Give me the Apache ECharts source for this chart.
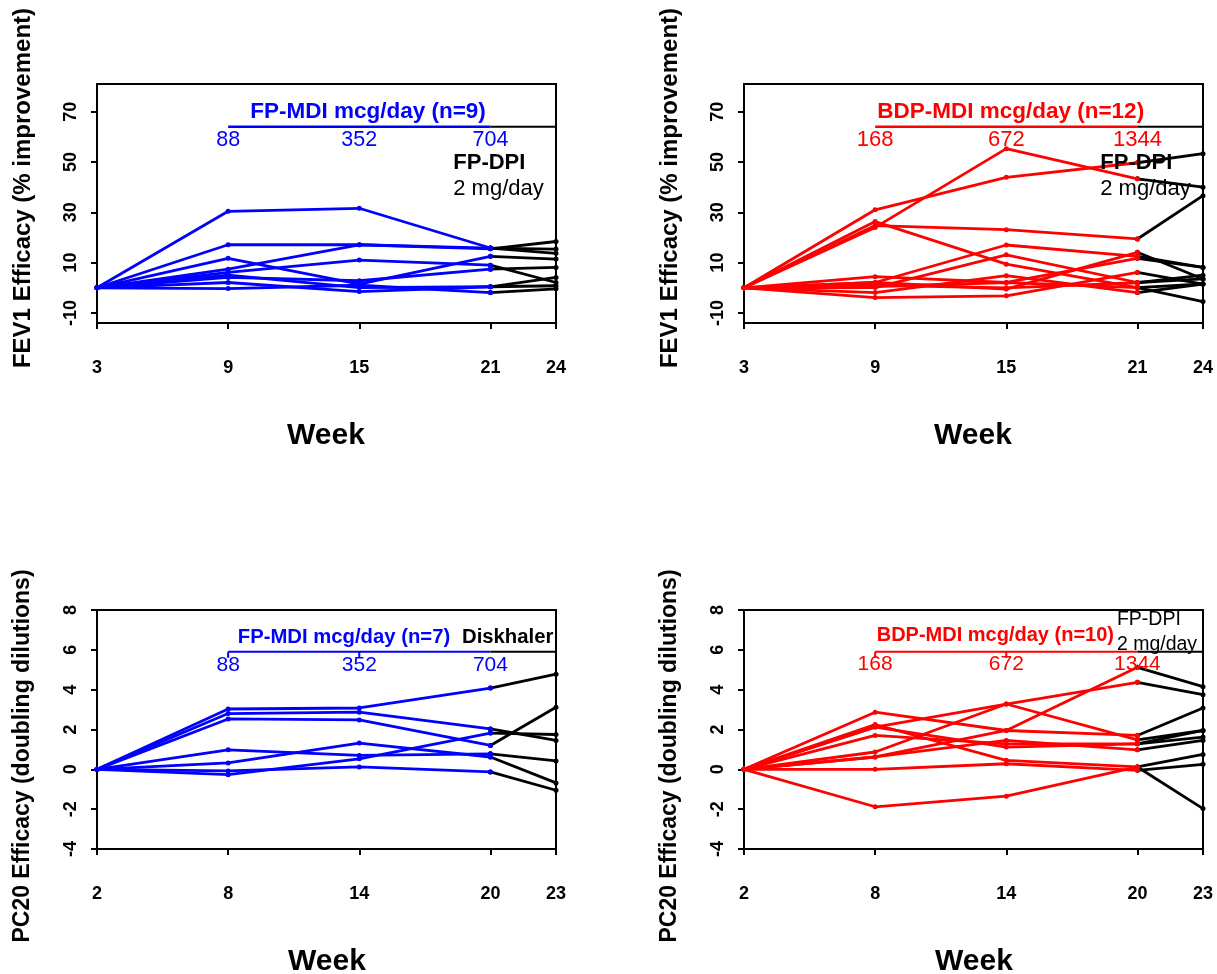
<!DOCTYPE html>
<html>
<head>
<meta charset="utf-8">
<script src="https://cdn.jsdelivr.net/npm/echarts@6/dist/echarts.min.js"></script>
<style>
html,body{margin:0;padding:0;background:#fff;}
#chart{width:1217px;height:974px;}
</style>
</head>
<body>
<div id="chart"></div>
<script>
// ---------- DATA ----------
const weeksTop = [3, 9, 15, 21];
const weekTopEnd = 24;
const weeksBottom = [2, 8, 14, 20];
const weekBottomEnd = 23;
const xTicksTop = [3, 9, 15, 21, 24];
const xTicksBottom = [2, 8, 14, 20, 23];
const yTicksTop = [-10, 10, 30, 50, 70];
const yTicksBottom = [-4, -2, 0, 2, 4, 6, 8];

// FEV1, FP-MDI (n=9): values at weeks 3,9,15,21 ; then FP-DPI at week 24
const fev1FP = [
  [0, 30.4, 31.6, 15.8], [0, 17.1, 17.1, 15.5], [0, 7.4, 17.1, 15.8],
  [0, 11.7, 1.5, 12.5], [0, 6.1, 11.0, 9.0], [0, 4.1, 2.8, 7.4],
  [0, 5.0, 0.1, 0.4], [0, 2.1, -1.5, 0.4], [0, -0.3, 1.0, -1.9]
];
const fev1FPEnd = [13.7, 18.4, 15.4, 11.4, 2.1, 8.1, 4.1, 0.8, -0.4];

// FEV1, BDP-MDI (n=12)
const fev1BDP = [
  [0, 24.0, 55.3, 43.3], [0, 31.0, 43.9, 49.7], [0, 24.7, 23.1, 19.4],
  [0, 26.3, 9.4, 0.1], [0, 2.1, 17.0, 12.5], [0, 0.1, 13.1, 2.1],
  [0, 4.4, 2.1, 11.7], [0, 2.1, -0.5, 14.1], [0, -3.9, -3.2, 6.1],
  [0, 0.5, 2.1, 0.1], [0, -1.9, 4.8, -1.9], [0, 1.0, 0.0, 2.0]
];
const fev1BDPEnd = [40.0, 53.3, 36.6, 1.5, 8.1, 3.5, 8.1, 3.5, 1.5, -5.5, 1.5, 5.0];

// PC20, FP-MDI (n=7)
const pc20FP = [
  [0, 3.03, 3.08, 4.08], [0, 2.80, 2.87, 2.03], [0, 2.53, 2.48, 1.20],
  [0, 0.98, 0.70, 0.78], [0, 0.32, 1.32, 0.62], [0, -0.27, 0.53, 1.82],
  [0, -0.08, 0.12, -0.13]
];
const pc20FPEnd = [4.78, 1.45, 3.12, 0.42, -0.68, 1.75, -1.05];

// PC20, BDP-MDI (n=10)
const pc20BDP = [
  [0, 0.62, 1.95, 5.12], [0, 2.12, 3.28, 4.37], [0, 2.87, 1.95, 1.70],
  [0, 0.87, 3.28, 1.48], [0, 2.25, 0.45, 0.12], [0, 1.70, 1.28, 1.28],
  [0, 0.62, 1.45, 0.98], [0, 0.00, 0.28, -0.05], [0, -1.88, -1.35, 0.12],
  [0, 2.12, 1.12, 1.28]
];
const pc20BDPEnd = [4.15, 3.75, 3.08, 1.95, 0.75, 1.62, 1.45, 0.25, -1.97, 1.95];

const dosesFP = ['88', '352', '704'];
const dosesBDP = ['168', '672', '1344'];

// ---------- STYLE ----------
const FONT = '"Liberation Sans", Arial, sans-serif';
const BLUE = '#0000ff', RED = '#ff0000', BLACK = '#000000';

const grids = [
  {left: 97, top: 84, width: 459, height: 239},
  {left: 744, top: 84, width: 459, height: 239},
  {left: 97, top: 610, width: 459, height: 239},
  {left: 744, top: 610, width: 459, height: 239}
];

function xAxis(i, min, max, ticks) {
  return {
    type: 'value', gridIndex: i, min: min, max: max,
    axisLine: {show: true, onZero: false, lineStyle: {color: BLACK, width: 2}},
    axisTick: {show: true, customValues: ticks, length: 6, inside: false, lineStyle: {color: BLACK, width: 2}},
    axisLabel: {customValues: ticks, margin: 36, color: BLACK, fontWeight: 'bold', fontSize: 18, fontFamily: FONT},
    splitLine: {show: false}
  };
}
function yAxis(i, min, max, ticks) {
  return {
    type: 'value', gridIndex: i, min: min, max: max,
    axisLine: {show: true, onZero: false, lineStyle: {color: BLACK, width: 2}},
    axisTick: {show: true, customValues: ticks, length: 6, inside: false, lineStyle: {color: BLACK, width: 2}},
    axisLabel: {customValues: ticks, rotate: 90, margin: 17, color: BLACK, fontWeight: 'bold', fontSize: 18, fontFamily: FONT},
    splitLine: {show: false}
  };
}

const series = [];
function addGroup(i, weeks, endWeek, rows, ends, color) {
  rows.forEach(function (r, k) {
    series.push({
      type: 'line', xAxisIndex: i, yAxisIndex: i,
      data: weeks.map(function (w, j) { return [w, r[j]]; }),
      symbol: 'circle', symbolSize: 5, showSymbol: true,
      lineStyle: {color: color, width: 2.8}, itemStyle: {color: color},
      animation: false, z: 3
    });
    series.push({
      type: 'line', xAxisIndex: i, yAxisIndex: i,
      data: [[weeks[weeks.length - 1], r[r.length - 1]], [endWeek, ends[k]]],
      symbol: 'circle', symbolSize: 5,
      lineStyle: {color: BLACK, width: 2.8}, itemStyle: {color: BLACK},
      animation: false, z: 2
    });
  });
}
function addSeg(i, pts, color, w) {
  series.push({
    type: 'line', xAxisIndex: i, yAxisIndex: i, data: pts,
    symbol: 'none', lineStyle: {color: color, width: w || 2.5}, animation: false, z: 4, silent: true
  });
}
function addTexts(i, items) {
  series.push({
    type: 'scatter', xAxisIndex: i, yAxisIndex: i, symbolSize: 0, animation: false, silent: true, z: 5,
    itemStyle: {opacity: 1},
    data: items.map(function (t) {
      return {
        value: [t.x, t.y],
        itemStyle: {opacity: 1},
        label: {
          show: true, position: 'inside', formatter: t.text, color: t.color, opacity: 1,
          fontSize: t.size, fontWeight: t.bold ? 'bold' : 'normal', fontFamily: FONT,
          align: t.align || 'center', verticalAlign: 'middle'
        }
      };
    })
  });
}

// Panel 1: FEV1 FP
addGroup(0, weeksTop, weekTopEnd, fev1FP, fev1FPEnd, BLUE);
addSeg(0, [[9, 64], [21, 64]], BLUE, 2.5);
addSeg(0, [[21, 64], [24, 64]], BLACK, 2);
addTexts(0, [
  {x: 15.4, y: 70, text: 'FP-MDI mcg/day (n=9)', color: BLUE, size: 22.5, bold: true},
  {x: 9, y: 58.6, text: dosesFP[0], color: BLUE, size: 21.5},
  {x: 15, y: 58.6, text: dosesFP[1], color: BLUE, size: 21.5},
  {x: 21, y: 58.6, text: dosesFP[2], color: BLUE, size: 21.5},
  {x: 19.3, y: 49.8, text: 'FP-DPI', color: BLACK, size: 22, bold: true, align: 'left'},
  {x: 19.3, y: 39.4, text: '2 mg/day', color: BLACK, size: 22, align: 'left'}
]);

// Panel 2: FEV1 BDP
addGroup(1, weeksTop, weekTopEnd, fev1BDP, fev1BDPEnd, RED);
addSeg(1, [[9, 64], [21, 64]], RED, 2.5);
addSeg(1, [[21, 64], [24, 64]], BLACK, 2);
addTexts(1, [
  {x: 15.2, y: 70, text: 'BDP-MDI mcg/day (n=12)', color: RED, size: 22.5, bold: true},
  {x: 9, y: 58.6, text: dosesBDP[0], color: RED, size: 22},
  {x: 15, y: 58.6, text: dosesBDP[1], color: RED, size: 22},
  {x: 21, y: 58.6, text: dosesBDP[2], color: RED, size: 22},
  {x: 19.3, y: 49.8, text: 'FP-DPI', color: BLACK, size: 22, bold: true, align: 'left'},
  {x: 19.3, y: 39.4, text: '2 mg/day', color: BLACK, size: 22, align: 'left'}
]);

// Panel 3: PC20 FP
addGroup(2, weeksBottom, weekBottomEnd, pc20FP, pc20FPEnd, BLUE);
addSeg(2, [[8, 5.9], [20, 5.9]], BLUE, 2);
addSeg(2, [[20, 5.9], [23, 5.9]], BLACK, 2);
addSeg(2, [[8, 5.9], [8, 5.6]], BLUE, 2);
addSeg(2, [[14, 5.9], [14, 5.6]], BLUE, 2);
addTexts(2, [
  {x: 13.3, y: 6.6, text: 'FP-MDI mcg/day (n=7)', color: BLUE, size: 20.3, bold: true},
  {x: 18.7, y: 6.6, text: 'Diskhaler', color: BLACK, size: 20.3, bold: true, align: 'left'},
  {x: 8, y: 5.25, text: dosesFP[0], color: BLUE, size: 21},
  {x: 14, y: 5.25, text: dosesFP[1], color: BLUE, size: 21},
  {x: 20, y: 5.25, text: dosesFP[2], color: BLUE, size: 21}
]);

// Panel 4: PC20 BDP
addGroup(3, weeksBottom, weekBottomEnd, pc20BDP, pc20BDPEnd, RED);
addSeg(3, [[8, 5.9], [20, 5.9]], RED, 2);
addSeg(3, [[20, 5.9], [23, 5.9]], BLACK, 2);
addSeg(3, [[8, 5.9], [8, 5.6]], RED, 2);
addSeg(3, [[14, 5.9], [14, 5.6]], RED, 2);
addTexts(3, [
  {x: 13.5, y: 6.7, text: 'BDP-MDI mcg/day (n=10)', color: RED, size: 20, bold: true},
  {x: 19.06, y: 7.5, text: 'FP-DPI', color: BLACK, size: 19.5, align: 'left'},
  {x: 19.06, y: 6.25, text: '2 mg/day', color: BLACK, size: 19.5, align: 'left'},
  {x: 8, y: 5.3, text: dosesBDP[0], color: RED, size: 21},
  {x: 14, y: 5.3, text: dosesBDP[1], color: RED, size: 21},
  {x: 20, y: 5.3, text: dosesBDP[2], color: RED, size: 21}
]);

function titleText(x, y, text, size, rot) {
  return {
    type: 'text', x: x, y: y, rotation: rot || 0, silent: true,
    style: {text: text, fill: BLACK, font: 'bold ' + size + 'px ' + FONT, align: 'center', verticalAlign: 'middle'}
  };
}

const option = {
  backgroundColor: '#ffffff',
  animation: false,
  grid: grids.map(function (g) {
    return Object.assign({show: true, borderColor: BLACK, borderWidth: 2, backgroundColor: 'transparent', containLabel: false}, g);
  }),
  xAxis: [
    xAxis(0, 3, 24, xTicksTop), xAxis(1, 3, 24, xTicksTop),
    xAxis(2, 2, 23, xTicksBottom), xAxis(3, 2, 23, xTicksBottom)
  ],
  yAxis: [
    yAxis(0, -14, 81, yTicksTop), yAxis(1, -14, 81, yTicksTop),
    yAxis(2, -4, 8, yTicksBottom), yAxis(3, -4, 8, yTicksBottom)
  ],
  series: series,
  graphic: [
    titleText(23, 188, 'FEV1 Efficacy (% improvement)', 24, Math.PI / 2),
    titleText(670, 188, 'FEV1 Efficacy (% improvement)', 24, Math.PI / 2),
    titleText(23, 756, 'PC20 Efficacy (doubling dilutions)', 23, Math.PI / 2),
    titleText(670, 756, 'PC20 Efficacy (doubling dilutions)', 23, Math.PI / 2),
    titleText(326, 436, 'Week', 30, 0),
    titleText(973, 436, 'Week', 30, 0),
    titleText(327, 962, 'Week', 30, 0),
    titleText(974, 962, 'Week', 30, 0)
  ]
};

const chart = echarts.init(document.getElementById('chart'), null, {renderer: 'canvas'});
chart.setOption(option);
</script>
</body>
</html>
